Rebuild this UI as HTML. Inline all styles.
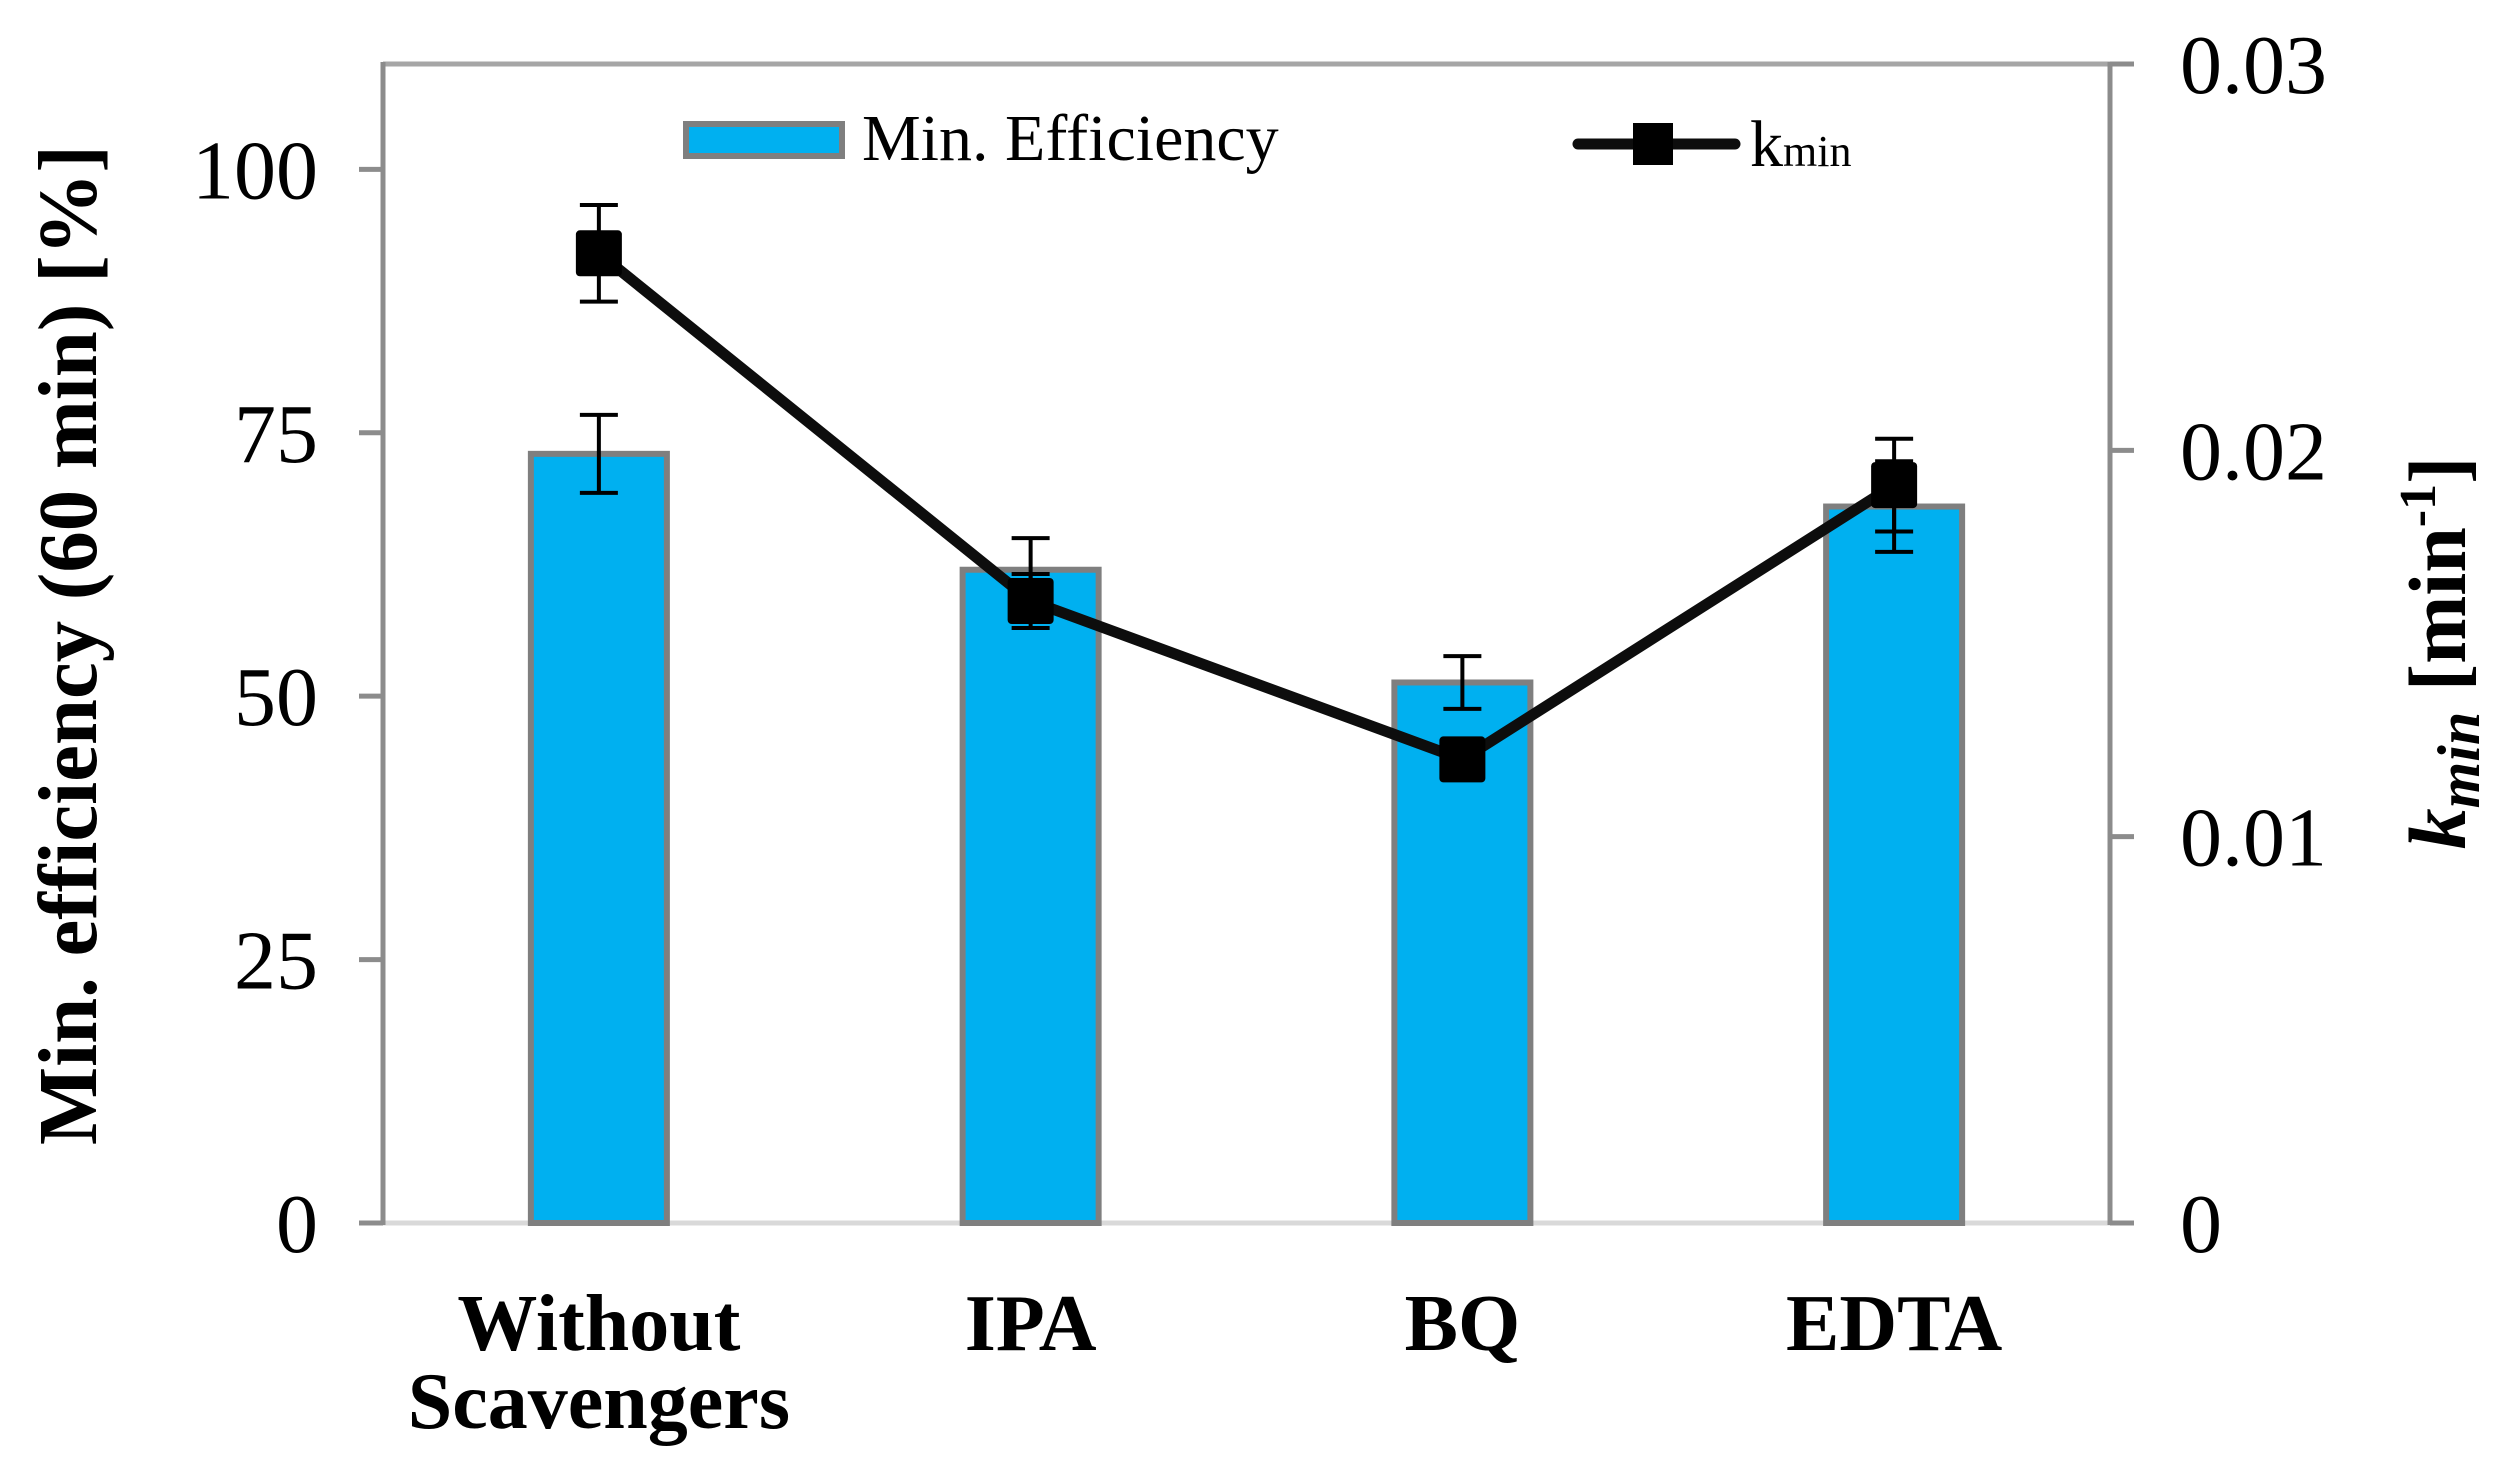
<!DOCTYPE html>
<html><head><meta charset="utf-8"><style>
html,body{margin:0;padding:0;background:#fff;}
svg{display:block;}
text{font-family:"Liberation Serif",serif;}
</style></head><body>
<svg id="chart" width="2499" height="1476" viewBox="0 0 2499 1476" xmlns="http://www.w3.org/2000/svg">
<g id="grid"></g>
</svg>
<script>
const categories = ["Without|Scavengers", "IPA", "BQ", "EDTA"];
const efficiency = [73, 62, 51.3, 68];
const efficiencyErr = [3.7, 3, 2.5, 4.3];
const kmin = [0.0251, 0.0161, 0.0120, 0.0191];
const kminErr = [0.00125, 0.0007, 0.0003, 0.0012];
const leftTicks = [0, 25, 50, 75, 100];
const rightTicks = ["0", "0.01", "0.02", "0.03"];

const svg = document.getElementById('chart');
const NS = 'http://www.w3.org/2000/svg';
const X0 = 383, X1 = 2110, YT = 64, YB = 1223;
const yL = v => YB - (v / 110) * (YB - YT);
const yR = v => YB - (v / 0.03) * (YB - YT);
const bandW = (X1 - X0) / categories.length;
const xC = i => X0 + bandW * (i + 0.5);
function mk(tag, attrs, parent) {
  const e = document.createElementNS(NS, tag);
  for (const k in attrs) e.setAttribute(k, attrs[k]);
  (parent || svg).appendChild(e);
  return e;
}
// axes
let e;
e = mk('line', {x1: X0, y1: YT, x2: X1, y2: YT, stroke: '#a6a6a6', 'stroke-width': 5});
 
e = mk('line', {x1: X0, y1: YB, x2: X1, y2: YB, stroke: '#d9d9d9', 'stroke-width': 5});
 
e = mk('line', {x1: X0, y1: YT - 2, x2: X0, y2: YB + 2, stroke: '#8c8c8c', 'stroke-width': 5});
 
e = mk('line', {x1: X1, y1: YT - 2, x2: X1, y2: YB + 2, stroke: '#8c8c8c', 'stroke-width': 5});
 

leftTicks.forEach(v => {
  const y = yL(v);
  const t = mk('line', {x1: X0 - 24, y1: y, x2: X0, y2: y, stroke: '#8c8c8c', 'stroke-width': 5});
   
  const l = mk('text', {x: 318, y: y + 29, 'text-anchor': 'end', 'font-size': 84, fill: '#000'});
  l.textContent = String(v);
   
});
rightTicks.forEach(s => {
  const y = yR(parseFloat(s));
  const t = mk('line', {x1: X1, y1: y, x2: X1 + 24, y2: y, stroke: '#8c8c8c', 'stroke-width': 5});
   
  const l = mk('text', {x: 2180, y: y + 29, 'text-anchor': 'start', 'font-size': 84, fill: '#000'});
  l.textContent = s;
   
});

// bars
const BW = 136;
efficiency.forEach((v, i) => {
  const r = mk('rect', {x: xC(i) - BW / 2, y: yL(v), width: BW, height: YB - yL(v), fill: '#00b0f0', stroke: '#7f7f7f', 'stroke-width': 6});
  
  
});
efficiency.forEach((v, i) => {
  const g = mk('g', {stroke: '#000', 'stroke-width': 4});
  
  
  const t = yL(v + efficiencyErr[i]), b = yL(v - efficiencyErr[i]), x = xC(i);
  mk('line', {x1: x, y1: t, x2: x, y2: b}, g);
  mk('line', {x1: x - 19, y1: t, x2: x + 19, y2: t}, g);
  mk('line', {x1: x - 19, y1: b, x2: x + 19, y2: b}, g);
});
// line
const pts = kmin.map((v, i) => xC(i) + ',' + yR(v)).join(' ');
e = mk('polyline', {points: pts, fill: 'none', stroke: '#0d0d0d', 'stroke-width': 11, 'stroke-linejoin': 'round'});
 
kmin.forEach((v, i) => {
  const g = mk('g', {stroke: '#000', 'stroke-width': 4});
  
  
  const t = yR(v + kminErr[i]), b = yR(v - kminErr[i]), x = xC(i);
  mk('line', {x1: x, y1: t, x2: x, y2: b}, g);
  mk('line', {x1: x - 19, y1: t, x2: x + 19, y2: t}, g);
  mk('line', {x1: x - 19, y1: b, x2: x + 19, y2: b}, g);
  const m = mk('rect', {x: x - 23, y: yR(v) - 23, width: 46, height: 46, rx: 4, fill: '#000'});
  
  
});
// category labels
categories.forEach((c, i) => {
  const parts = c.split('|');
  parts.forEach((p, j) => {
    const l = mk('text', {x: xC(i), y: 1350 + j * 78, 'text-anchor': 'middle', 'font-size': 80, 'font-weight': 'bold', fill: '#000'});
    l.textContent = p;
    
    
  });
});
</script>
<svg style="position:absolute;left:0;top:0" width="2499" height="1476" xmlns="http://www.w3.org/2000/svg">
  <rect x="686" y="124" width="156" height="32" fill="#00b0f0" stroke="#7f7f7f" stroke-width="6"/>
  <text x="862" y="160" font-size="66" font-family="Liberation Serif, serif">Min. Efficiency</text>
  <line x1="1578" y1="144" x2="1735" y2="144" stroke="#0d0d0d" stroke-width="11" stroke-linecap="round"/>
  <rect x="1633" y="123" width="40" height="42" fill="#000"/>
  <text x="1750" y="166" font-size="66" font-family="Liberation Serif, serif">k<tspan font-size="44">min</tspan></text>
  <text transform="translate(96,645) rotate(-90)" text-anchor="middle" font-size="84" font-weight="bold" font-family="Liberation Serif, serif" textLength="1000" lengthAdjust="spacingAndGlyphs">Min. efficiency (60 min) [%]</text>
  <text transform="translate(2465,653) rotate(-90)" text-anchor="middle" font-size="82" font-weight="bold" font-family="Liberation Serif, serif"><tspan font-style="italic">k</tspan><tspan font-style="italic" font-size="60" dy="14">min</tspan><tspan dy="-14"> [min</tspan><tspan font-size="52" dy="-30">-1</tspan><tspan dy="30">]</tspan></text>
</svg>
</body></html>
